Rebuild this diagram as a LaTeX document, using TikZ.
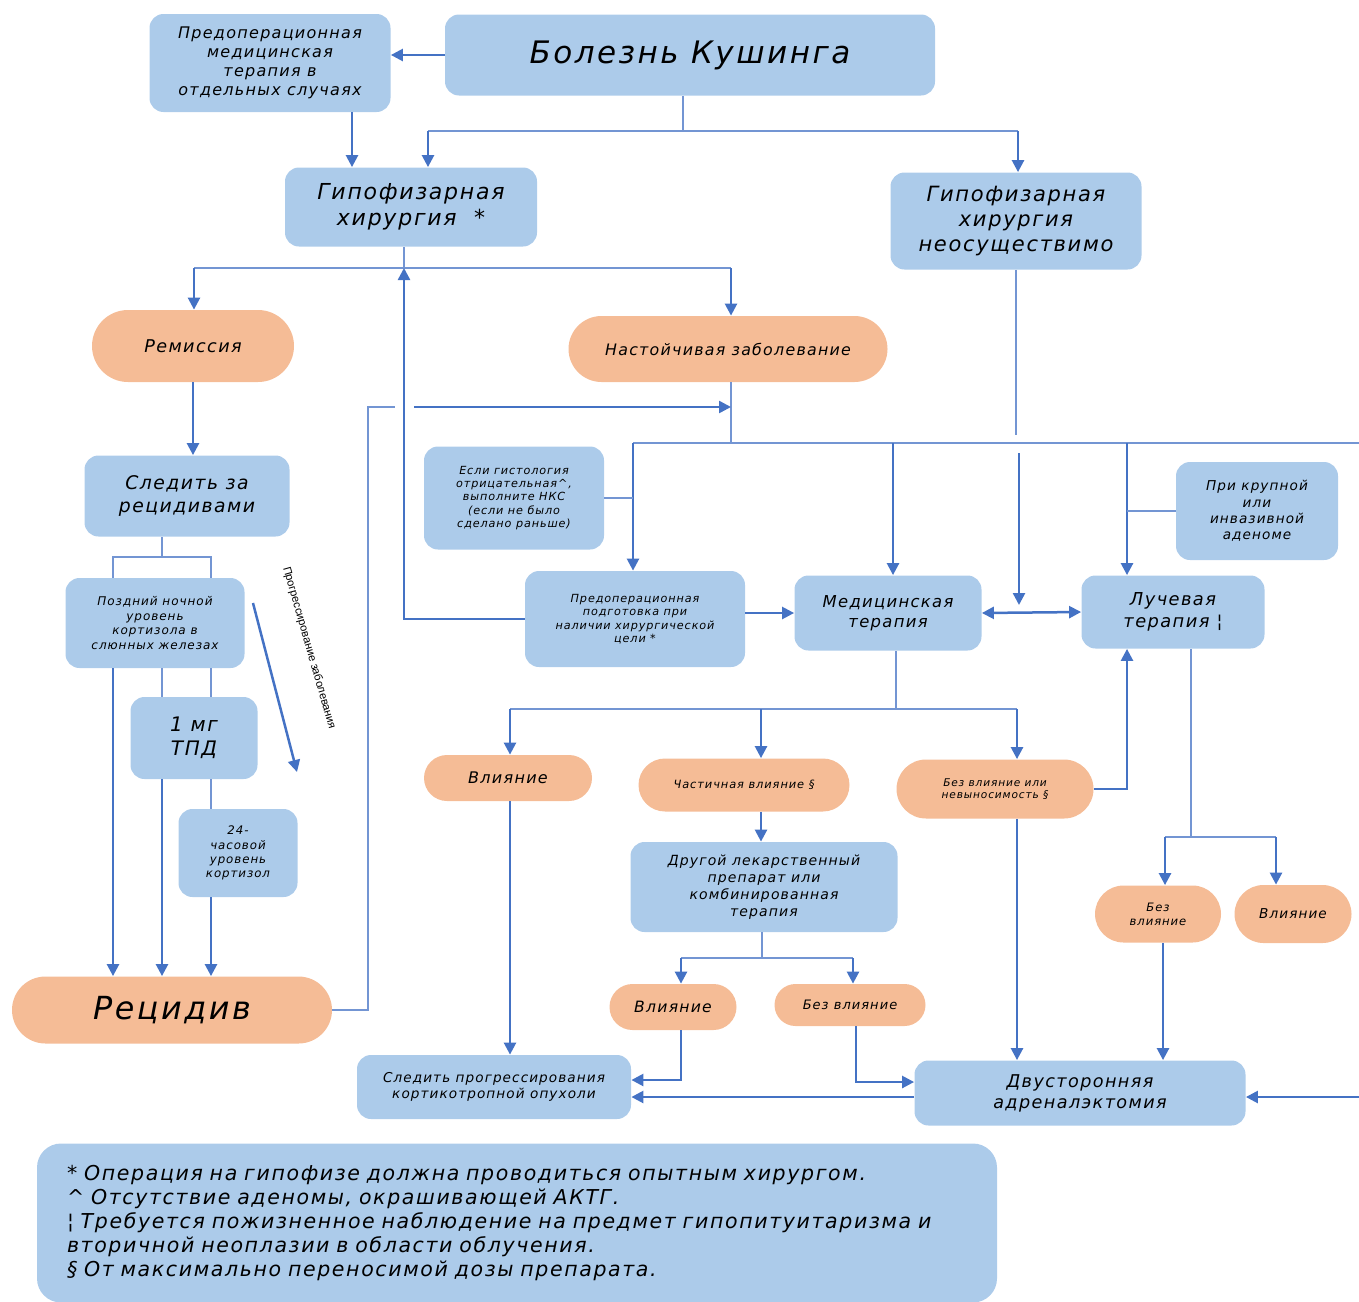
\documentclass[tikz,border=0pt]{standalone}
\usepackage{fontspec}
\setmainfont{DejaVu Sans}[ItalicFont={DejaVu Sans Oblique},LetterSpace=8]
\newfontfamily\narrowfont{Liberation Sans}
\usetikzlibrary{arrows.meta,shapes.misc}
\definecolor{box_blue}{RGB}{172, 203, 234}
\definecolor{box_orange}{RGB}{245, 188, 150}
\definecolor{line_blue}{RGB}{68, 114, 196}
\newcommand{\fsz}[1]{\fontsize{#1}{\fpeval{1.2*#1}}\selectfont\itshape}
\tikzstyle{bn}=[rectangle,rounded corners=7pt,fill=box_blue,align=center,inner sep=2pt]
\tikzstyle{on}=[rounded rectangle,fill=box_orange,align=center,inner sep=2pt]
\tikzstyle{none}=[inner sep=0pt]
\tikzstyle{ln}=[draw=line_blue!75,line width=0.6pt]
\tikzstyle{arr}=[draw=line_blue,line width=1.25pt,-{Triangle[length=6pt,width=6pt]}]
\tikzstyle{arrb}=[draw=line_blue,line width=1.25pt,{Triangle[length=6pt,width=6pt]}-{Triangle[length=6pt,width=6pt]}]

\begin{document}
\begin{tikzpicture}[x=0.5pt, y=-0.5pt]
    \useasboundingbox (0,0) rectangle (1359,1301);
    % boxes
    \node [style=bn, minimum width=245pt, minimum height=40.5pt, font=\fsz{15.5}] (0) at (690,55) {Болезнь Кушинга};
    \node [style=bn, minimum width=120.5pt, minimum height=49pt, font=\fsz{8}] (1) at (270,63) {Предоперационная\\медицинская\\терапия в\\отдельных случаях};
    \node [style=bn, minimum width=126pt, minimum height=39.5pt, font=\fsz{11}] (2) at (411,207) {Гипофизарная\\хирургия \ *};
    \node [style=bn, minimum width=125.5pt, minimum height=48.5pt, font=\fsz{10.5}] (3) at (1016,221) {Гипофизарная\\хирургия\\неосуществимо};
    \node [style=on, minimum width=105pt, minimum height=36pt, font=\fsz{8.8}] (4) at (193,346) {Ремиссия};
    \node [style=on, minimum width=163.5pt, minimum height=33pt, font=\fsz{7.9}] (5) at (728,349) {Настойчивая заболевание};
    \node [style=bn, minimum width=102.5pt, minimum height=40.5pt, font=\fsz{9.4}] (6) at (187,496) {Следить за\\рецидивами};
    \node [style=bn, minimum width=90pt, minimum height=51.5pt, font=\fsz{5.6}] (7) at (514,498) {Если гистология\\отрицательная\textasciicircum,\\выполните НКС\\(если не было\\сделано раньше)};
    \node [style=bn, minimum width=81pt, minimum height=49pt, font=\fsz{6.8}] (8) at (1257,511) {При крупной\\или\\инвазивной\\аденоме};
    \node [style=bn, minimum width=89.5pt, minimum height=45pt, font=\fsz{6}] (9) at (155,623) {Поздний ночной\\уровень\\кортизола в\\слюнных железах};
    \node [style=bn, minimum width=110pt, minimum height=48pt, font=\fsz{5.6}] (10) at (635,619) {Предоперационная\\подготовка при\\наличии хирургической\\цели *};
    \node [style=bn, minimum width=93.5pt, minimum height=37.5pt, font=\fsz{8.2}] (11) at (888,613) {Медицинская\\терапия};
    \node [style=bn, minimum width=91.5pt, minimum height=36.5pt, font=\fsz{8.9}] (12) at (1173,612) {Лучевая\\терапия ¦};
    \node [style=bn, minimum width=63.5pt, minimum height=41pt, font=\fsz{10}] (13) at (194,738) {1 мг\\ТПД};
    \node [style=bn, minimum width=59.5pt, minimum height=44pt, font=\fsz{5.9}] (14) at (238,853) {24-\\часовой\\уровень\\кортизол};
    \node [style=on, minimum width=88pt, minimum height=23pt, font=\fsz{8}] (15) at (508,778) {Влияние};
    \node [style=on, minimum width=109.5pt, minimum height=26.5pt, font=\fsz{5.7}] (16) at (744,785) {Частичная влияние §};
    \node [style=on, minimum width=102.5pt, minimum height=29.5pt, font=\fsz{5.3}] (17) at (995,789) {Без влияние или\\невыносимость §};
    \node [style=bn, minimum width=133.5pt, minimum height=45pt, font=\fsz{7}] (18) at (764,887) {Другой лекарственный\\препарат или\\комбинированная\\терапия};
    \node [style=on, minimum width=67pt, minimum height=28.5pt, font=\fsz{5.8}] (19) at (1158,914) {Без\\влияние};
    \node [style=on, minimum width=62.5pt, minimum height=29pt, font=\fsz{6.8}] (20) at (1293,914) {Влияние};
    \node [style=on, minimum width=164pt, minimum height=33.5pt, font=\fsz{15.9}] (21) at (172,1010) {Рецидив};
    \node [style=on, minimum width=67.5pt, minimum height=23pt, font=\fsz{7.8}] (22) at (673,1007) {Влияние};
    \node [style=on, minimum width=79.5pt, minimum height=21pt, font=\fsz{6.5}] (23) at (850,1005) {Без влияние};
    \node [style=bn, minimum width=137pt, minimum height=32pt, font=\fsz{6.8}] (24) at (494,1087) {Следить прогрессирования\\кортикотропной опухоли};
    \node [style=bn, minimum width=165.5pt, minimum height=32.5pt, font=\fsz{8.8}] (25) at (1080,1093) {Двусторонняя\\адреналэктомия};
    \node [style=bn, rounded corners=12pt, minimum width=480pt, minimum height=79.5pt, text width=450pt, align=left, font=\fontsize{10.25}{12}\selectfont\itshape] (26) at (517,1223) {* Операция на гипофизе должна проводиться опытным хирургом.\\\textasciicircum{} Отсутствие аденомы, окрашивающей АКТГ.\\¦ Требуется пожизненное наблюдение на предмет гипопитуитаризма и\\вторичной неоплазии в области облучения.\\§ От максимально переносимой дозы препарата.};
    \node [rotate=-74, font=\narrowfont\fontsize{5.6}{6.5}\selectfont] (27) at (309,648) {Прогрессирование заболевания};
    % junctions
    \node [style=none] (30) at (428,131) {};
    \node [style=none] (31) at (1018,131) {};
    \node [style=none] (32) at (683,131) {};
    \node [style=none] (33) at (194,268) {};
    \node [style=none] (34) at (731,268) {};
    \node [style=none] (35) at (404,268) {};
    \node [style=none] (36) at (731,443) {};
    \node [style=none] (37) at (633,443) {};
    \node [style=none] (38) at (1359,443) {};
    \node [style=none] (40) at (1016,435) {};
    \node [style=none] (41) at (1019,453) {};
    \node [style=none] (42) at (1019,605) {};
    \node [style=none] (43) at (1127,443) {};
    \node [style=none] (44) at (896,709) {};
    \node [style=none] (45) at (510,709) {};
    \node [style=none] (46) at (761,709) {};
    \node [style=none] (47) at (1017,709) {};
    \node [style=none] (48) at (1191,837) {};
    \node [style=none] (49) at (1165,837) {};
    \node [style=none] (50) at (1276,837) {};
    \node [style=none] (51) at (1163,1000) {};
    \node [style=none] (52) at (762,958) {};
    \node [style=none] (53) at (681,958) {};
    \node [style=none] (54) at (853,958) {};
    \node [style=none] (55) at (681,1080) {};
    \node [style=none] (56) at (856,1082) {};
    \node [style=none] (57) at (1359,1097) {};
    \node [style=none] (58) at (368,407) {};
    \node [style=none] (59) at (395,407) {};
    \node [style=none] (60) at (414,407) {};
    \node [style=none] (61) at (731,407) {};
    \node [style=none] (62) at (162,557) {};
    \node [style=none] (63) at (113,557) {};
    \node [style=none] (64) at (211,557) {};
    \node [style=none] (65) at (253,603) {};
    \node [style=none] (66) at (297,772) {};
    \node [style=none] (67) at (893,443) {};
    \node [style=none] (68) at (352,140) {};
    % connectors
    \draw [style=arr] (0.west) to (0.west -| 1.east);
    \draw [style=arr] (1.south -| 68.center) to (2.north -| 68.center);
    \draw [style=ln] (0.south -| 32.center) to (32.center);
    \draw [style=ln] (30.center) to (31.center);
    \draw [style=arr] (30.center) to (2.north -| 30.center);
    \draw [style=arr] (31.center) to (3.north -| 31.center);
    \draw [style=ln] (2.south -| 35.center) to (35.center);
    \draw [style=ln] (33.center) to (34.center);
    \draw [style=arr] (33.center) to (4.north -| 33.center);
    \draw [style=arr] (34.center) to (5.north -| 34.center);
    \draw [style=arr] (10.west) -| (35.center);
    \draw [style=arr] (4.south) to (4.south |- 6.north);
    \draw [style=ln] (5.south -| 36.center) to (36.center);
    \draw [style=ln] (37.center) to (38.center);
    \draw [style=arr] (37.center) to (10.north -| 37.center);
    \draw [style=arr] (67.center) to (11.north -| 67.center);
    \draw [style=arr] (43.center) to (12.north -| 43.center);
    \draw [style=ln] (3.south) to (40.center);
    \draw [style=arr] (41.center) to (42.center);
    \draw [style=ln] (7.east) to (7.east -| 37.center);
    \draw [style=ln] (8.west) to (8.west -| 43.center);
    \draw [style=arr] (10.east |- 11.west) to (11.west);
    \draw [style=arrb] (11.east) to (12.west);
    \draw [style=ln] (11.south -| 44.center) to (44.center);
    \draw [style=ln] (45.center) to (47.center);
    \draw [style=arr] (45.center) to (15.north -| 45.center);
    \draw [style=arr] (46.center) to (16.north -| 46.center);
    \draw [style=arr] (47.center) to (17.north -| 47.center);
    \draw [style=arr] (17.east) -| (12.south -| 43.center);
    \draw [style=ln] (12.south -| 48.center) to (48.center);
    \draw [style=ln] (49.center) to (50.center);
    \draw [style=arr] (49.center) to (19.north -| 49.center);
    \draw [style=arr] (50.center) to (20.north -| 50.center);
    \draw [style=arr] (19.south -| 51.center) to (25.north -| 51.center);
    \draw [style=arr] (17.south -| 47.center) to (25.north -| 47.center);
    \draw [style=arr] (15.south -| 45.center) to (24.north -| 45.center);
    \draw [style=arr] (16.south -| 46.center) to (18.north -| 46.center);
    \draw [style=ln] (18.south -| 52.center) to (52.center);
    \draw [style=ln] (53.center) to (54.center);
    \draw [style=arr] (53.center) to (22.north -| 53.center);
    \draw [style=arr] (54.center) to (23.north -| 54.center);
    \draw [style=arr] (22.south -| 55.center) |- (24.east |- 55.center);
    \draw [style=arr] (23.south -| 56.center) |- (25.west |- 56.center);
    \draw [style=arr] (25.west |- 57.center) to (24.east |- 57.center);
    \draw [style=arr] (57.center) to (25.east |- 57.center);
    \draw [style=ln] (21.east) -| (58.center) to (59.center);
    \draw [style=arr] (60.center) to (61.center);
    \draw [style=ln] (6.south -| 62.center) to (62.center);
    \draw [style=ln] (9.north -| 63.center) |- (64.center) to (9.north -| 64.center);
    \draw [style=arr] (9.south -| 63.center) to (21.north -| 63.center);
    \draw [style=ln] (9.south -| 62.center) to (13.north -| 62.center);
    \draw [style=arr] (13.south -| 62.center) to (21.north -| 62.center);
    \draw [style=ln] (9.south -| 64.center) to (13.north -| 64.center);
    \draw [style=ln] (13.south -| 64.center) to (14.north -| 64.center);
    \draw [style=arr] (14.south -| 64.center) to (21.north -| 64.center);
    \draw [style=arr] (65.center) to (66.center);
\end{tikzpicture}
\end{document}
